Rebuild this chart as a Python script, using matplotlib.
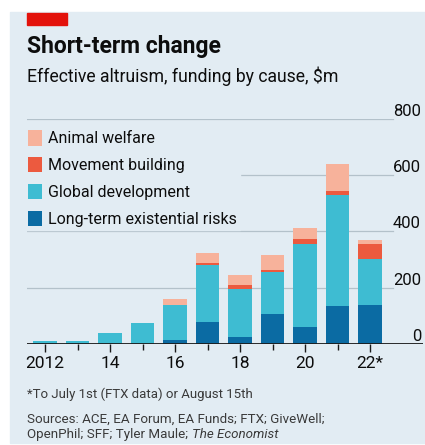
import numpy as np
import matplotlib
matplotlib.use("Agg")
import matplotlib.pyplot as plt
from matplotlib.patches import Rectangle, Patch

# Effective altruism funding by cause, $m
years = [2012, 2013, 2014, 2015, 2016, 2017, 2018, 2019, 2020, 2021, 2022]
long_term = [0, 0, 0, 0, 15, 79, 26, 106, 59, 136, 138]
global_dev = [9, 10, 40, 73, 122, 203, 168, 148, 295, 392, 165]
movement = [0, 0, 0, 1, 2, 6, 15, 10, 18, 15, 51]
animal = [0, 0, 0, 0, 19, 35, 35, 50, 38, 94, 14]

series_names = ["Long-term existential risks", "Global development",
                "Movement building", "Animal welfare"]
series_colors = ["#0b6ba3", "#3ebcd2", "#ec5a3f", "#f7b29b"]

y_ticks = [0, 200, 400, 600, 800]
x_tick_years = [2012, 2014, 2016, 2018, 2020, 2022]
x_tick_labels = ["2012", "14", "16", "18", "20", "22*"]

BG = "#e2ecf3"
W, H = 425, 445

plt.rcParams['font.family'] = ['Roboto', 'DejaVu Sans']

fig = plt.figure(figsize=(W / 100, H / 100), dpi=100, facecolor="white")


def fx(px):
    return px / W


def fy(py):
    return 1 - py / H


# background panel and red tag
fig.patches.append(Rectangle((fx(10), fy(443)), fx(415), (443 - 12) / H,
                             transform=fig.transFigure, color=BG, zorder=-10))
fig.patches.append(Rectangle((fx(27), fy(25)), fx(40), 12 / H,
                             transform=fig.transFigure, color="#e3120b", zorder=-5))

fig.text(fx(27), fy(53), "Short-term change", fontsize=16.5, fontweight="bold",
         va="baseline", ha="left", color="#0d0d0d")
fig.text(fx(27), fy(82), "Effective altruism, funding by cause, $m", fontsize=12.7,
         va="baseline", ha="left", color="#0d0d0d")

# axes: x from 27px to 423px, y 0 at 344px, 800 at 118.5px
ax = fig.add_axes([fx(27), fy(344), fx(423 - 27), (344 - 118.5) / H])
ax.set_facecolor("none")
ax.set_ylim(0, 800)
ax.set_xlim(2012 - 18 / 32.5, 2012 + 378 / 32.5)

grid_end = (393 - 27) / (423 - 27)
for v in y_ticks[1:]:
    ax.axhline(v, xmin=0, xmax=grid_end, color="#b3c1ca", lw=0.9, zorder=1)
    ax.text(0.995, v, str(v), transform=ax.get_yaxis_transform(), ha="right",
            va="bottom", fontsize=12, color="#0d0d0d")
ax.text(0.995, 0, "0", transform=ax.get_yaxis_transform(), ha="right",
        va="bottom", fontsize=12, color="#0d0d0d")
ax.axhline(0, color="#1a1a1a", lw=1.3, zorder=4)

bottom = np.zeros(len(years))
for vals, name, col in zip([long_term, global_dev, movement, animal],
                           series_names, series_colors):
    ax.bar(years, vals, width=0.71, bottom=bottom, color=col, label=name,
           zorder=3, linewidth=0)
    bottom += np.array(vals)

for s in ax.spines.values():
    s.set_visible(False)
ax.set_yticks([])
ax.set_xticks(x_tick_years)
ax.set_xticklabels(x_tick_labels)
ax.set_xticks([y for y in years if y not in x_tick_years], minor=True)
ax.tick_params(axis="x", which="both", direction="out")
ax.tick_params(axis="x", which="major", length=6, width=1, color="#1a1a1a",
               labelsize=12.5, pad=3, labelcolor="#0d0d0d")
ax.tick_params(axis="x", which="minor", length=4.5, width=1, color="#1a1a1a")

handles = [Patch(facecolor=c, edgecolor="none") for c in series_colors[::-1]]
leg = fig.legend(handles, series_names[::-1], loc="upper left",
                 bbox_to_anchor=(fx(25), fy(127)), fontsize=11.5, frameon=True,
                 facecolor=BG, edgecolor=BG, framealpha=1, borderpad=0.2,
                 borderaxespad=0, handlelength=0.85, handleheight=1.1,
                 handletextpad=0.4, labelspacing=0.67)
leg.get_frame().set_boxstyle("square", pad=0)
for t in leg.get_texts():
    t.set_color("#0d0d0d")

foot_color = "#3a3a3a"
fig.text(fx(27), fy(398), "*To July 1st (FTX data) or August 15th", fontsize=9.5,
         va="baseline", color=foot_color)
fig.text(fx(27), fy(423), "Sources: ACE, EA Forum, EA Funds; FTX; GiveWell;",
         fontsize=9.6, va="baseline", color=foot_color)
src = fig.text(fx(27), fy(438), "OpenPhil; SFF; Tyler Maule; ", fontsize=9.6,
               va="baseline", color=foot_color)
fig.canvas.draw()
bb = src.get_window_extent()
fig.text(bb.x1 / W, fy(438), "The Economist", fontsize=9.6, fontstyle="italic",
         va="baseline", color=foot_color)

fig.savefig("out.png", dpi=100, facecolor="white")
